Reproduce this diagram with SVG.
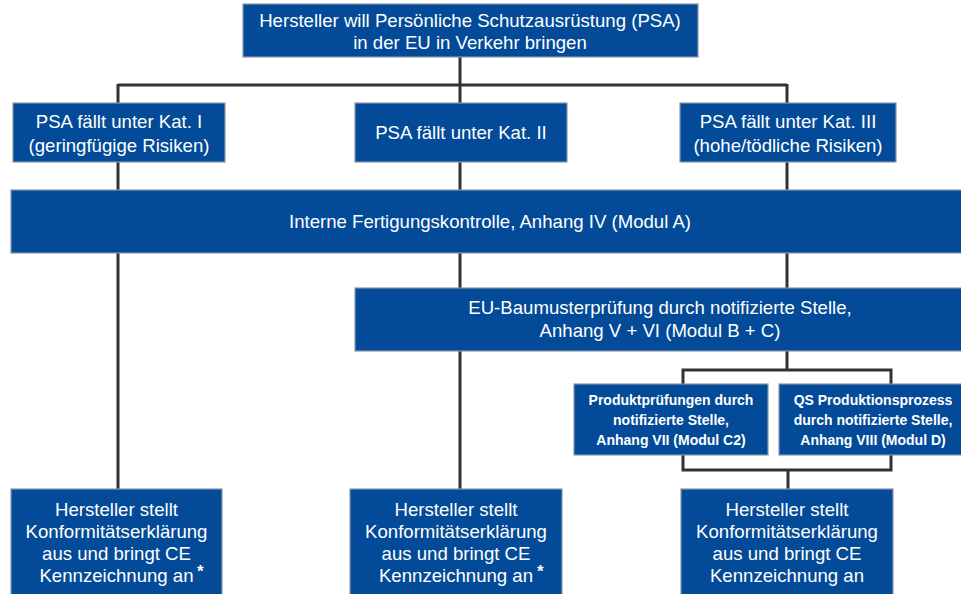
<svg xmlns="http://www.w3.org/2000/svg" width="961" height="594" viewBox="0 0 961 594">
<style>
.box{fill:#034b98;stroke:#8a96a8;stroke-width:1.2}
.t{font-family:"Liberation Sans",Arial,sans-serif;font-size:18.6px;fill:#ffffff;text-anchor:middle}
.s{font-family:"Liberation Sans",Arial,sans-serif;font-size:14px;font-weight:bold;fill:#ffffff;text-anchor:middle}
.ast{font-family:"Liberation Sans",Arial,sans-serif;font-size:17px;font-weight:bold;fill:#ffffff}
.ln{stroke:#333333;stroke-width:3;fill:none}
</style>
<rect width="961" height="594" fill="#ffffff"/>
<g id="connectors">
<line class="ln" x1="460" y1="57" x2="460" y2="103"/>
<line class="ln" x1="118" y1="85" x2="787" y2="85"/>
<line class="ln" x1="118" y1="84" x2="118" y2="103"/>
<line class="ln" x1="787" y1="84" x2="787" y2="103"/>
<line class="ln" x1="118" y1="162" x2="118" y2="190"/>
<line class="ln" x1="460" y1="162" x2="460" y2="190"/>
<line class="ln" x1="787" y1="162" x2="787" y2="190"/>
<line class="ln" x1="118" y1="253" x2="118" y2="489"/>
<line class="ln" x1="460" y1="253" x2="460" y2="288"/>
<line class="ln" x1="787" y1="253" x2="787" y2="288"/>
<line class="ln" x1="460" y1="351" x2="460" y2="489"/>
<line class="ln" x1="787" y1="351" x2="787" y2="370"/>
<polyline class="ln" points="683,384 683,370 891,370 891,384"/>
<polyline class="ln" points="683,455 683,470 891,470 891,455"/>
<line class="ln" x1="788" y1="470" x2="788" y2="489"/>
</g>
<g id="top">
<rect class="box" x="243" y="4" width="455" height="53"/>
<text class="t" x="470" y="27">Hersteller will Persönliche Schutzausrüstung (PSA)</text>
<text class="t" x="470" y="49">in der EU in Verkehr bringen</text>
</g>
<g id="kat1">
<rect class="box" x="13" y="103" width="212" height="59"/>
<text class="t" x="119" y="128">PSA fällt unter Kat. I</text>
<text class="t" x="119" y="152">(geringfügige Risiken)</text>
</g>
<g id="kat2">
<rect class="box" x="355" y="103" width="212" height="59"/>
<text class="t" x="461" y="139">PSA fällt unter Kat. II</text>
</g>
<g id="kat3">
<rect class="box" x="680" y="103" width="216" height="59"/>
<text class="t" x="788" y="128">PSA fällt unter Kat. III</text>
<text class="t" x="788" y="152">(hohe/tödliche Risiken)</text>
</g>
<g id="modulA">
<rect class="box" x="11" y="190" width="955" height="63"/>
<text class="t" x="490" y="228">Interne Fertigungskontrolle, Anhang IV (Modul A)</text>
</g>
<g id="modulBC">
<rect class="box" x="355" y="288" width="611" height="63"/>
<text class="t" x="660" y="314">EU-Baumusterprüfung durch notifizierte Stelle,</text>
<text class="t" x="660" y="337">Anhang V + VI (Modul B + C)</text>
</g>
<g id="modulC2">
<rect class="box" x="574" y="384" width="194" height="71"/>
<text class="s" x="671" y="405">Produktprüfungen durch</text>
<text class="s" x="671" y="425">notifizierte Stelle,</text>
<text class="s" x="671" y="445">Anhang VII (Modul C2)</text>
</g>
<g id="modulD">
<rect class="box" x="779" y="384" width="187" height="71"/>
<text class="s" x="873" y="405">QS Produktionsprozess</text>
<text class="s" x="873" y="425">durch notifizierte Stelle,</text>
<text class="s" x="873" y="445">Anhang VIII (Modul D)</text>
</g>
<g id="ce1">
<rect class="box" x="11" y="489" width="211" height="120"/>
<text class="t" x="116.5" y="516">Hersteller stellt</text>
<text class="t" x="116.5" y="538">Konformitätserklärung</text>
<text class="t" x="116.5" y="560">aus und bringt CE</text>
<text class="t" x="116.5" y="582">Kennzeichnung an</text>
<text class="ast" x="197" y="577">*</text>
</g>
<g id="ce2">
<rect class="box" x="350" y="489" width="212" height="120"/>
<text class="t" x="456" y="516">Hersteller stellt</text>
<text class="t" x="456" y="538">Konformitätserklärung</text>
<text class="t" x="456" y="560">aus und bringt CE</text>
<text class="t" x="456" y="582">Kennzeichnung an</text>
<text class="ast" x="537" y="577">*</text>
</g>
<g id="ce3">
<rect class="box" x="681" y="489" width="212" height="120"/>
<text class="t" x="787" y="516">Hersteller stellt</text>
<text class="t" x="787" y="538">Konformitätserklärung</text>
<text class="t" x="787" y="560">aus und bringt CE</text>
<text class="t" x="787" y="582">Kennzeichnung an</text>
</g>
</svg>
